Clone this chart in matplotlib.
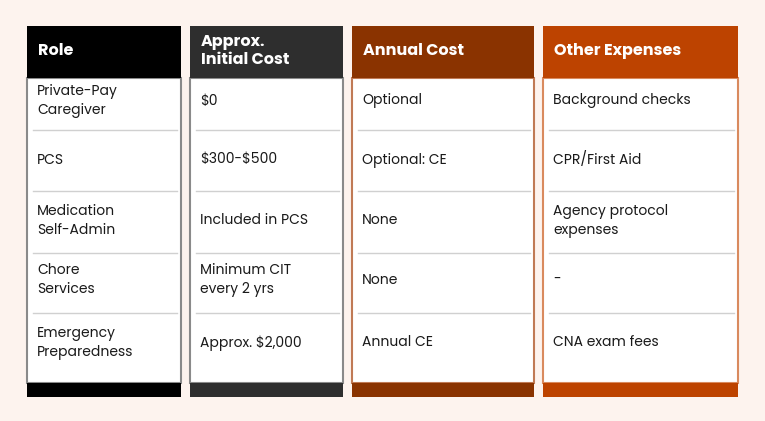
import matplotlib.pyplot as plt
from matplotlib.patches import Rectangle

headers = ["Role", "Approx.\nInitial Cost", "Annual Cost", "Other Expenses"]
roles = ["Private-Pay\nCaregiver", "PCS", "Medication\nSelf-Admin", "Chore\nServices",
         "Emergency\nPreparedness"]
initial_cost = ["$0", "$300-$500", "Included in PCS", "Minimum CIT\nevery 2 yrs",
                "Approx. $2,000"]
annual_cost = ["Optional", "Optional: CE", "None", "None", "Annual CE"]
other_expenses = ["Background checks", "CPR/First Aid", "Agency protocol\nexpenses", "-",
                  "CNA exam fees"]

columns = [roles, initial_cost, annual_cost, other_expenses]
colors = ["#000000", "#2e2e2e", "#8a3300", "#bd4300"]
borders = ["#8a8a8a", "#8a8a8a", "#c07a55", "#d98a5e"]
col_x = [(27, 181), (190, 343), (352, 534), (543, 738)]
row_edges = [78, 130, 191, 253, 313, 383]
row_mid = [101, 160, 221, 280, 343]

plt.rcParams['font.family'] = ['Poppins', 'Lato', 'DejaVu Sans']
plt.rcParams['text.parse_math'] = False
fig = plt.figure(figsize=(7.65, 4.21), dpi=100)
fig.patch.set_facecolor("#fdf3ee")
ax = fig.add_axes([0, 0, 1, 1])
ax.set_xlim(0, 765)
ax.set_ylim(421, 0)
ax.axis("off")

for (x0, x1), col, c, bc, head in zip(col_x, columns, colors, borders, headers):
    w = x1 - x0
    ax.add_patch(Rectangle((x0, 78), w, 305, facecolor="white", edgecolor=bc, lw=1.5))
    ax.add_patch(Rectangle((x0, 26), w, 52, facecolor=c, edgecolor="none"))
    ax.add_patch(Rectangle((x0, 383), w, 14, facecolor=c, edgecolor="none"))
    ax.text(x0 + 11, 51, head, color="white", fontsize=11.5, fontweight="bold",
            va="center", ha="left", linespacing=1.1)
    for y in row_edges[1:-1]:
        ax.plot([x0 + 6, x1 - 4], [y, y], color="#d0d0d0", lw=1)
    for y, txt in zip(row_mid, col):
        ax.text(x0 + 10, y, txt, color="#1a1a1a", fontsize=10, va="center",
                ha="left", linespacing=1.3)

fig.savefig("out.png", dpi=100, facecolor=fig.get_facecolor())
